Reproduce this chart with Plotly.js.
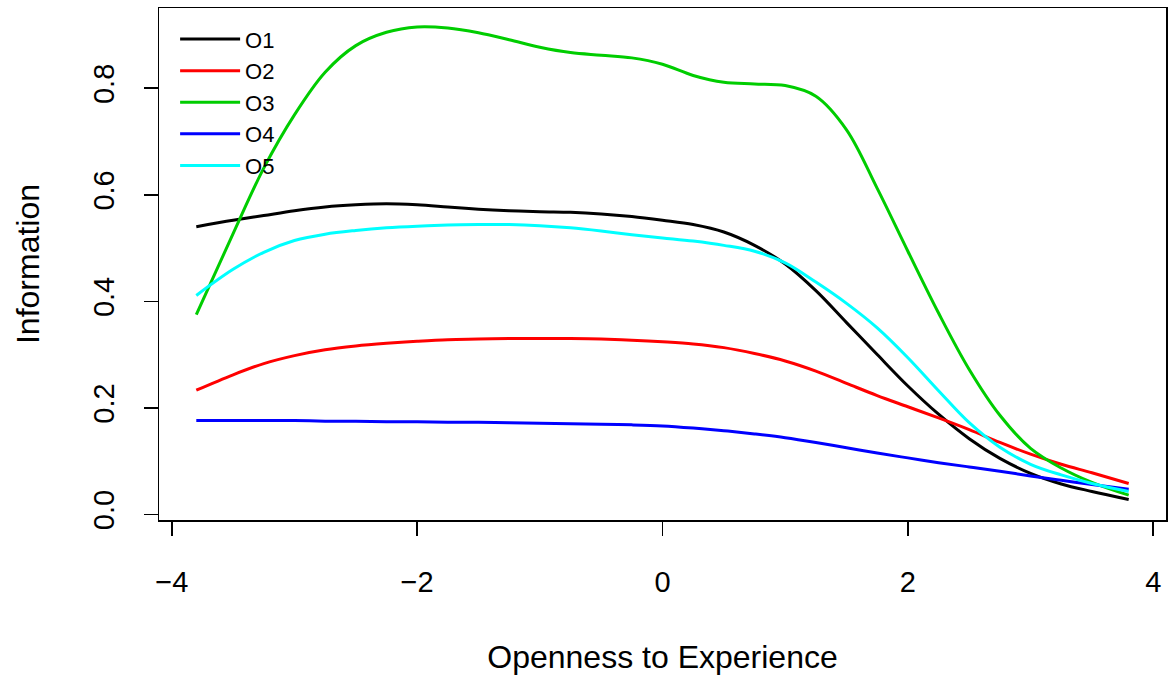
<!DOCTYPE html>
<html>
<head>
<meta charset="utf-8">
<script src="https://cdn.plot.ly/plotly-3.0.1.min.js"></script>
<style>
html,body{margin:0;padding:0;background:#fff;}
#chart{width:1170px;height:675px;}
</style>
</head>
<body>
<div id="chart"></div>
<script>
// Theta grid (Openness to Experience)
const theta = [-3.8, -3.5, -3.25, -3, -2.75, -2.5, -2.25, -2, -1.75, -1.5, -1.25, -1, -0.75, -0.5, -0.25, 0, 0.25, 0.5, 0.75, 1, 1.25, 1.5, 1.75, 2, 2.25, 2.5, 2.75, 3, 3.25, 3.5, 3.8];

// Item information curves
const O1 = [0.540, 0.552, 0.561, 0.570, 0.577, 0.581, 0.583, 0.581, 0.577, 0.573, 0.570, 0.568, 0.567, 0.564, 0.559, 0.552, 0.544, 0.530, 0.505, 0.470, 0.420, 0.360, 0.300, 0.241, 0.188, 0.142, 0.105, 0.077, 0.057, 0.043, 0.028];
const O2 = [0.233, 0.262, 0.283, 0.298, 0.309, 0.316, 0.321, 0.325, 0.328, 0.329, 0.330, 0.330, 0.330, 0.329, 0.327, 0.324, 0.320, 0.313, 0.302, 0.288, 0.269, 0.246, 0.223, 0.202, 0.181, 0.159, 0.135, 0.113, 0.094, 0.078, 0.058];
const O3 = [0.375, 0.527, 0.650, 0.750, 0.830, 0.880, 0.905, 0.915, 0.913, 0.904, 0.891, 0.877, 0.867, 0.862, 0.857, 0.845, 0.824, 0.811, 0.808, 0.805, 0.785, 0.722, 0.612, 0.494, 0.378, 0.272, 0.186, 0.124, 0.087, 0.060, 0.036];
const O4 = [0.176, 0.176, 0.176, 0.176, 0.175, 0.175, 0.174, 0.174, 0.173, 0.173, 0.172, 0.171, 0.170, 0.169, 0.168, 0.166, 0.162, 0.157, 0.151, 0.144, 0.135, 0.125, 0.115, 0.106, 0.097, 0.089, 0.081, 0.072, 0.064, 0.056, 0.047];
const O5 = [0.411, 0.460, 0.492, 0.514, 0.526, 0.533, 0.538, 0.541, 0.543, 0.544, 0.544, 0.542, 0.538, 0.532, 0.525, 0.519, 0.513, 0.505, 0.494, 0.472, 0.436, 0.396, 0.350, 0.294, 0.232, 0.172, 0.126, 0.094, 0.074, 0.058, 0.043];

const seriesNames = ["O1", "O2", "O3", "O4", "O5"];
const seriesData = [O1, O2, O3, O4, O5];
const seriesColors = ["#000000", "#FF0000", "#00CD00", "#0000FF", "#00FFFF"];

const xTicks = [-4, -2, 0, 2, 4];
const yTicks = [0, 0.2, 0.4, 0.6, 0.8];
const yTickText = ["0.0", "0.2", "0.4", "0.6", "0.8"];

const FONT = "Liberation Sans, Arial, Helvetica, sans-serif";

const traces = seriesNames.map((nm, i) => ({
  type: "scatter",
  mode: "lines",
  name: nm,
  x: theta,
  y: seriesData[i],
  line: {color: seriesColors[i], width: 3, shape: "spline", smoothing: 1}
}));

const layout = {
  width: 1170,
  height: 675,
  paper_bgcolor: "#ffffff",
  plot_bgcolor: "#ffffff",
  margin: {l: 159, r: 4, t: 8, b: 155, pad: 0},
  font: {family: FONT, color: "#000000", size: 28},
  showlegend: true,
  legend: {
    x: 0.016, y: 0.98, xanchor: "left", yanchor: "top",
    bgcolor: "rgba(0,0,0,0)",
    font: {family: FONT, size: 22, color: "#000000"},
    itemwidth: 60,
    tracegroupgap: 0
  },
  xaxis: {
    range: [-4.104, 4.104],
    tickvals: xTicks,
    ticks: "outside",
    ticklen: 14,
    tickwidth: 1.5,
    tickcolor: "#000000",
    ticklabelstandoff: 22,
    tickfont: {family: FONT, size: 29, color: "#000000"},
    showgrid: false,
    zeroline: false,
    showline: true,
    linecolor: "#000000",
    linewidth: 1.5,
    mirror: true,
    automargin: false,
    title: {text: "Openness to Experience", font: {family: FONT, size: 32, color: "#000000"}, standoff: 48}
  },
  yaxis: {
    range: [-0.0106, 0.9506],
    tickvals: yTicks,
    ticktext: yTickText,
    tickangle: -90,
    ticks: "outside",
    ticklen: 14,
    tickwidth: 1.5,
    tickcolor: "#000000",
    ticklabelstandoff: 18,
    tickfont: {family: FONT, size: 29, color: "#000000"},
    showgrid: false,
    zeroline: false,
    showline: true,
    linecolor: "#000000",
    linewidth: 1.5,
    mirror: true,
    automargin: false,
    title: {text: "Information", font: {family: FONT, size: 32, color: "#000000"}, standoff: 38}
  }
};

Plotly.newPlot("chart", traces, layout, {displayModeBar: false, staticPlot: true});
</script>
</body>
</html>
